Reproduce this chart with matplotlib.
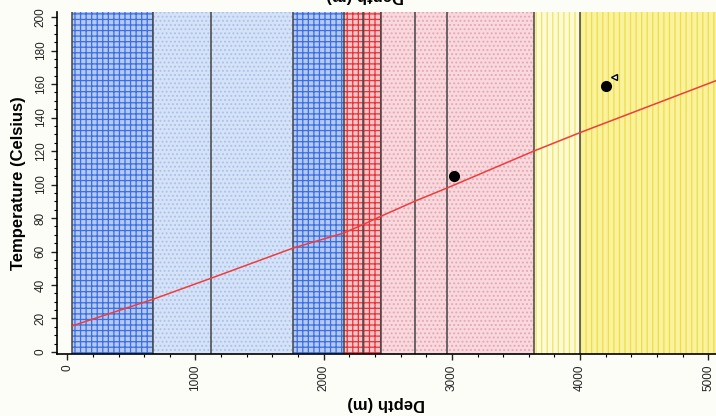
import matplotlib.pyplot as plt
from matplotlib.ticker import MultipleLocator

plt.rcParams['font.family'] = ['Liberation Sans', 'DejaVu Sans']
plt.rcParams['hatch.linewidth'] = 0.9

# lithology intervals (depth in m)
band_top = [35, 670, 1120, 1760, 2155, 2305, 2445, 2710, 2965, 3640, 4000]
band_base = [670, 1120, 1760, 2155, 2305, 2445, 2710, 2965, 3640, 4000, 5060]
band_kind = ['blue_brick', 'blue_dot', 'blue_dot', 'blue_brick', 'red_brick', 'red_brick',
             'pink_dot', 'pink_dot', 'pink_dot', 'pale_yellow', 'yellow']

# modelled temperature profile
profile_depth = [35, 670, 1120, 1760, 2155, 2305, 2445, 2710, 2965, 3640, 4000, 5060]
profile_temp = [15.5, 31.5, 44, 62, 71, 76, 81, 90, 98, 120, 131, 162]

# measured temperatures
meas_depth = [3018, 4202]
meas_temp = [105, 159]
bht_depth = [4266]
bht_temp = [164]

styles = {
    'blue_brick': dict(facecolor='#b4c9f4', edgecolor='#3b6ede', hatch='+++'),
    'blue_dot': dict(facecolor='#d6e3f7', edgecolor='#a9c3ee', hatch='....'),
    'red_brick': dict(facecolor='#f7c6c8', edgecolor='#e5333b', hatch='+++'),
    'pink_dot': dict(facecolor='#f7d9de', edgecolor='#eaa6b2', hatch='....'),
    'pale_yellow': dict(facecolor='#fcfbd6', edgecolor='#efe463', hatch='|||'),
    'yellow': dict(facecolor='#faf29c', edgecolor='#eedd4c', hatch='|||'),
}

fig = plt.figure(figsize=(7.16, 4.16), dpi=100, facecolor='#fdfdf8')
ax = fig.add_axes([57 / 716, 62 / 416, 659 / 716, 342 / 416])
ax.set_facecolor('#fdfdf8')

for top, base, kind in zip(band_top, band_base, band_kind):
    ax.axvspan(top, base, linewidth=0, **styles[kind])
for top in band_top:
    ax.axvline(top, color='#444444', linewidth=1.1)

ax.plot(profile_depth, profile_temp, color='#f03c3c', linewidth=1.1)
ax.plot(meas_depth, meas_temp, 'o', color='black', markersize=7)
ax.plot(bht_depth, bht_temp, '<', markerfacecolor='white', markeredgecolor='black',
        markersize=5, markeredgewidth=1)

ax.set_xlim(-80, 5060)
ax.set_ylim(-1.2, 203)

for s in ['top', 'right']:
    ax.spines[s].set_visible(False)
ax.spines['left'].set_linewidth(1.2)
ax.spines['bottom'].set_linewidth(1.2)

ax.xaxis.set_major_locator(MultipleLocator(1000))
ax.xaxis.set_minor_locator(MultipleLocator(200))
ax.yaxis.set_major_locator(MultipleLocator(20))
ax.yaxis.set_minor_locator(MultipleLocator(5))
ax.tick_params(which='major', length=4, width=1, labelsize=8.5, colors='#222222')
ax.tick_params(which='minor', length=2, width=0.8)
plt.setp(ax.get_xticklabels(), rotation=90, va='top', ha='center')
plt.setp(ax.get_yticklabels(), rotation=90, va='center', ha='right')

ax.set_ylabel('Temperature (Celsius)', fontsize=12, fontweight='bold', labelpad=6)
ax.set_xlabel('Depth (m)', fontsize=12, fontweight='bold', rotation=180, labelpad=4)
fig.text(365 / 716, 1.012, 'Depth (m)', fontsize=12, fontweight='bold', rotation=180,
         ha='center', va='center')

fig.savefig('out.png', dpi=100, facecolor=fig.get_facecolor())
